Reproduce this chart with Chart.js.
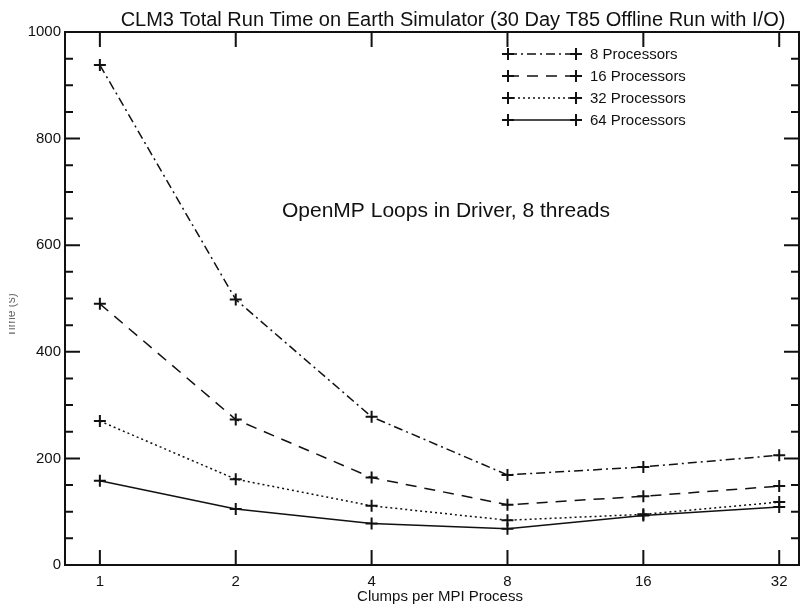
<!DOCTYPE html>
<html>
<head>
<meta charset="utf-8">
<script src="https://cdn.jsdelivr.net/npm/chart.js@4.4.1/dist/chart.umd.min.js"></script>
<style>
  html, body { margin: 0; padding: 0; background: #fff; }
</style>
</head>
<body>
<canvas id="chart" width="807" height="608"></canvas>
<script>
// clumps per MPI process (x), run time in seconds (y)
const clumps = [1, 2, 4, 8, 16, 32];
const seriesLabels = ['8 Processors', '16 Processors', '32 Processors', '64 Processors'];
const procs8 = [938, 498, 278, 169, 184, 206];
const procs16 = [490, 273, 164, 113, 129, 148];
const procs32 = [270, 161, 111, 84, 95, 118];
const procs64 = [158, 105, 78, 68, 93, 109];
const yMajorTicks = [0, 200, 400, 600, 800, 1000];

const titleText = 'CLM3 Total Run Time on Earth Simulator (30 Day T85 Offline Run with I/O)';
const xTitle = 'Clumps per MPI Process';
const yTitle = 'Time (s)';
const noteText = 'OpenMP Loops in Driver, 8 threads';

const regular = '"Liberation Sans", Arial, sans-serif';
const ink = '#111';

function pts(vals){
    return clumps.map((c, i) => ({x: c, y: vals[i]}));
}

function makeSet(label, vals, dash){
    return {
        label: label,
        data: pts(vals),
        borderColor: ink,
        backgroundColor: ink,
        borderWidth: 1.5,
        borderDash: dash,
        pointStyle: 'cross',
        pointRadius: 6,
        pointHoverRadius: 6,
        pointBorderWidth: 2,
        pointBorderColor: ink,
        tension: 0
    };
}

// box with inward ticks on all four sides
const frameTicks = {
    id: 'frameTicks',
    afterDraw(chart){
        let ctx = chart.ctx;
        let area = chart.chartArea;
        let xs = chart.scales.x;
        let ys = chart.scales.y;
        ctx.save();
        ctx.strokeStyle = ink;
        ctx.lineWidth = 2;
        ctx.setLineDash([]);
        ctx.strokeRect(area.left, area.top, area.right - area.left, area.bottom - area.top);
        ctx.beginPath();
        for(let v = 0; v <= 1000; v += 50){
            let py = ys.getPixelForValue(v);
            let len = yMajorTicks.includes(v) ? 15 : 8;
            ctx.moveTo(area.left, py); ctx.lineTo(area.left + len, py);
            ctx.moveTo(area.right, py); ctx.lineTo(area.right - len, py);
        }
        for(let c of clumps){
            let px = xs.getPixelForValue(c);
            ctx.moveTo(px, area.bottom); ctx.lineTo(px, area.bottom - 15);
            ctx.moveTo(px, area.top); ctx.lineTo(px, area.top + 15);
        }
        ctx.stroke();
        ctx.restore();
    }
};

// titles, note and a legend with a marker at each end of the sample line
const textsAndLegend = {
    id: 'textsAndLegend',
    afterDraw(chart){
        let ctx = chart.ctx;
        ctx.save();
        chart.data.datasets.forEach((ds, i) => {
            let y = 54 + i * 22;
            ctx.strokeStyle = ink;
            ctx.lineWidth = 1.5;
            ctx.setLineDash(ds.borderDash);
            ctx.beginPath();
            ctx.moveTo(508, y); ctx.lineTo(576, y);
            ctx.stroke();
            ctx.setLineDash([]);
            ctx.lineWidth = 2;
            ctx.beginPath();
            for(let mx of [508, 576]){
                ctx.moveTo(mx - 6, y); ctx.lineTo(mx + 6, y);
                ctx.moveTo(mx, y - 6); ctx.lineTo(mx, y + 6);
            }
            ctx.stroke();
            ctx.fillStyle = ink;
            ctx.font = '15px ' + regular;
            ctx.textBaseline = 'middle';
            ctx.textAlign = 'left';
            ctx.fillText(ds.label, 590, y + 1);
        });

        ctx.fillStyle = ink;
        ctx.textAlign = 'center';
        ctx.textBaseline = 'middle';
        ctx.font = '21px ' + regular;
        ctx.fillText(noteText, 446, 211);

        ctx.textBaseline = 'alphabetic';
        ctx.font = '20px ' + regular;
        ctx.fillText(titleText, 453, 26);

        ctx.font = '15px ' + regular;
        ctx.fillText(xTitle, 440, 601);

        // y title sits half outside the left edge, as in the original
        ctx.beginPath();
        ctx.rect(9, 0, 40, 608);
        ctx.clip();
        ctx.translate(15, 315);
        ctx.rotate(-Math.PI / 2);
        ctx.fillStyle = '#666';
        ctx.font = '12px ' + regular;
        ctx.fillText(yTitle, 0, 0);
        ctx.restore();
    }
};

let chartContainer = document.getElementById('chart').getContext('2d');

let config = {
    type: 'line',
    data: {
        datasets: [
            makeSet(seriesLabels[0], procs8, [9, 4, 2, 4]),
            makeSet(seriesLabels[1], procs16, [11, 8]),
            makeSet(seriesLabels[2], procs32, [2, 3]),
            makeSet(seriesLabels[3], procs64, [])
        ]
    },
    options: {
        responsive: false,
        animation: false,
        layout: { padding: { left: 0, right: 7, top: 32, bottom: 0 } },
        plugins: {
            legend: { display: false },
            tooltip: { enabled: false },
            title: { display: false }
        },
        scales: {
            x: {
                type: 'logarithmic',
                min: 0.837,
                max: 35.4,
                grid: { display: false, drawTicks: false },
                border: { display: false },
                afterBuildTicks: (scale) => {
                    scale.ticks = clumps.map(c => ({ value: c }));
                },
                afterFit: (scale) => { scale.height = 43; },
                ticks: {
                    color: ink,
                    padding: 8,
                    autoSkip: false,
                    maxRotation: 0,
                    font: { family: regular, size: 15 },
                    callback: (v) => String(v)
                }
            },
            y: {
                min: 0,
                max: 1000,
                grid: { display: false, drawTicks: false },
                border: { display: false },
                afterBuildTicks: (scale) => {
                    scale.ticks = yMajorTicks.map(v => ({ value: v }));
                },
                afterFit: (scale) => { scale.width = 65; },
                ticks: {
                    color: ink,
                    padding: 4,
                    font: { family: regular, size: 15 },
                    callback: (v) => String(v)
                }
            }
        }
    },
    plugins: [frameTicks, textsAndLegend]
};

let chart = new Chart(chartContainer, config);
</script>
</body>
</html>
